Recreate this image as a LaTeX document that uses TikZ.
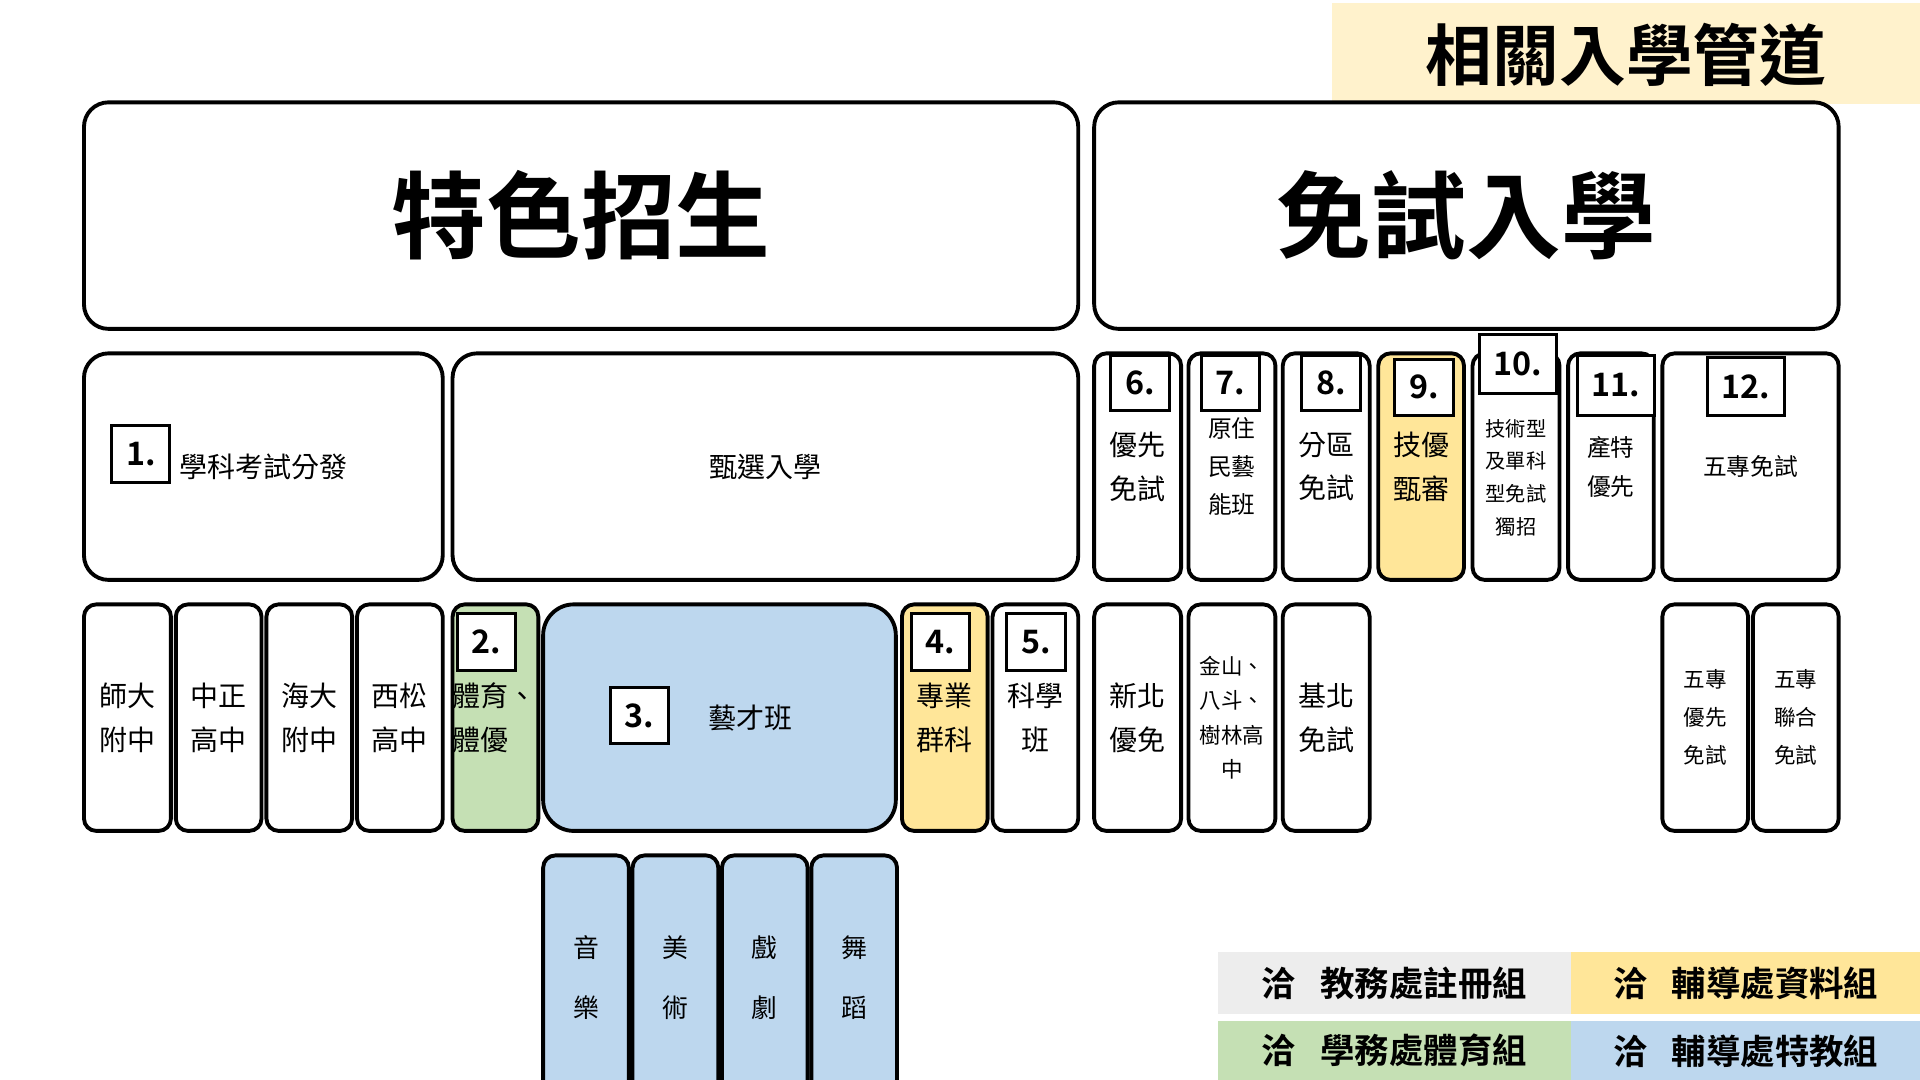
\documentclass[tikz,border=0pt]{standalone}
\usepackage{fontspec}
\setmainfont{Noto Sans CJK TC}
\newfontfamily\heavy{Noto Sans CJK TC Bold}
\definecolor{artblue}{HTML}{BDD7EE}
\definecolor{sportgreen}{HTML}{C5E0B4}
\definecolor{techyellow}{HTML}{FFE699}
\definecolor{bannerbg}{HTML}{FFF2CC}
\definecolor{regray}{HTML}{EDEDED}
\tikzset{
  wh/.style 2 args={minimum width=#1*0.01cm, minimum height=#2*0.01cm},
  bigbox/.style={draw, line width=0.9pt, rounded corners=0.2cm, anchor=north west},
  smallbox/.style={draw, line width=0.9pt, rounded corners=0.1cm, anchor=north west, align=center, inner sep=0pt, font=\fontsize{6.5}{10.2}\selectfont},
  numbox/.style={draw, fill=white, line width=0.7pt, anchor=north west, font=\heavy\fontsize{7.5}{9}\selectfont},
  legend/.style={anchor=north west, inner sep=0pt, font=\heavy\fontsize{8}{10}\selectfont}
}
\begin{document}
\begin{tikzpicture}[x=0.01cm, y=-0.01cm]
    \useasboundingbox (0,0) rectangle (1568,882);
    % banner
    \node[anchor=north west, fill=bannerbg, wh={481}{82}, inner sep=0pt] (banner) at (1087,2) {};
    \node[font=\heavy\fontsize{15.5}{17}\selectfont] at (1328,45) {相關入學管道};

    % headings
    \node[bigbox, wh={812}{185}, font=\heavy\fontsize{22}{24}\selectfont] (special) at (67,82) {特色招生};
    \node[bigbox, wh={608}{185}, font=\heavy\fontsize{22}{24}\selectfont] (free) at (892,82) {免試入學};

    % second row
    \node[bigbox, wh={293}{185}, font=\fontsize{6.5}{8}\selectfont] (exam) at (67,287) {學科考試分發};
    \node[bigbox, wh={511}{185}, font=\fontsize{6.5}{8}\selectfont] (select) at (368,287) {甄選入學};
    \node[smallbox, wh={71}{185}] (prior) at (892,287) {優先\\免試};
    \node[smallbox, wh={71}{185}, font=\fontsize{5.5}{8.8}\selectfont] (native) at (969,287) {原住\\民藝\\能班};
    \node[smallbox, wh={71}{185}] (district) at (1046,287) {分區\\免試};
    \node[smallbox, fill=techyellow, wh={70}{185}] (skill) at (1124,287) {技優\\甄審};
    \node[smallbox, wh={71}{185}, font=\fontsize{4.7}{7.6}\selectfont] (tech) at (1201,287) {\\[0.05cm]技術型\\及單科\\型免試\\獨招};
    \node[smallbox, wh={70}{185}, font=\fontsize{5.5}{9}\selectfont] (industry) at (1279,287) {產特\\優先};
    \node[smallbox, wh={144}{185}, font=\fontsize{5.5}{8}\selectfont] (junior) at (1356,287) {五專免試};

    % third row
    \node[smallbox, wh={71}{185}] (shida) at (67,492) {師大\\附中};
    \node[smallbox, wh={70}{185}] (zhongzheng) at (142,492) {中正\\高中};
    \node[smallbox, wh={70}{185}] (haida) at (216,492) {海大\\附中};
    \node[smallbox, wh={70}{185}] (xisong) at (290,492) {西松\\高中};
    \node[smallbox, fill=sportgreen, wh={70}{185}, text width=0.7cm, align=left] (sport) at (368,492) {體育、\\體優};
    \node[smallbox, fill=artblue, rounded corners=0.25cm, wh={288}{185}] (art) at (442,492) {\hspace{2.2em}藝才班};
    \node[smallbox, fill=techyellow, wh={70}{185}] (pro) at (735,492) {專業\\群科};
    \node[smallbox, wh={70}{185}] (science) at (809,492) {科學\\班};
    \node[smallbox, wh={71}{185}] (xinbei) at (892,492) {新北\\優免};
    \node[smallbox, wh={71}{185}, font=\fontsize{5}{8}\selectfont] (jinshan) at (969,492) {金山、\\八斗、\\樹林高\\中};
    \node[smallbox, wh={71}{185}] (jibei) at (1046,492) {基北\\免試};
    \node[smallbox, wh={70}{185}, font=\fontsize{5}{8.8}\selectfont] (jrprior) at (1356,492) {五專\\優先\\免試};
    \node[smallbox, wh={70}{185}, font=\fontsize{5}{8.8}\selectfont] (jrjoint) at (1430,492) {五專\\聯合\\免試};

    % art classes
    \foreach \x/\name/\txt in {442/music/音\\樂, 515/fineart/美\\術, 588/drama/戲\\劇, 661/dance/舞\\蹈}
        \node[smallbox, fill=artblue, wh={70}{200}, font=\fontsize{6}{14}\selectfont] (\name) at (\x,697) {\txt};

    % number badges
    \node[numbox, wh={45}{47}] (n1) at (90,346) {1.};
    \node[numbox, wh={46}{46}] (n2) at (372,500) {2.};
    \node[numbox, wh={45}{46}] (n3) at (497,560) {3.};
    \node[numbox, wh={46}{46}] (n4) at (743,500) {4.};
    \node[numbox, wh={46}{46}] (n5) at (821,500) {5.};
    \node[numbox, wh={45}{45}] (n6) at (906,289) {6.};
    \node[numbox, wh={46}{45}] (n7) at (980,289) {7.};
    \node[numbox, wh={46}{45}] (n8) at (1062,289) {8.};
    \node[numbox, wh={46}{46}] (n9) at (1138,292) {9.};
    \node[numbox, wh={61}{48}] (n10) at (1207,272) {10.};
    \node[numbox, wh={60}{49}] (n11) at (1287,289) {11.};
    \node[numbox, wh={62}{47}] (n12) at (1393,291) {12.};

    % contact legend
    \node[legend, fill=regray, wh={288}{50}] (reg) at (994,777) {洽\hspace{0.7em}教務處註冊組};
    \node[legend, fill=techyellow, wh={286}{50}] (guide) at (1282,777) {洽\hspace{0.7em}輔導處資料組};
    \node[legend, fill=sportgreen, wh={288}{49}] (pe) at (994,833) {洽\hspace{0.7em}學務處體育組};
    \node[legend, fill=artblue, wh={286}{49}] (sped) at (1282,833) {洽\hspace{0.7em}輔導處特教組};
\end{tikzpicture}
\end{document}
